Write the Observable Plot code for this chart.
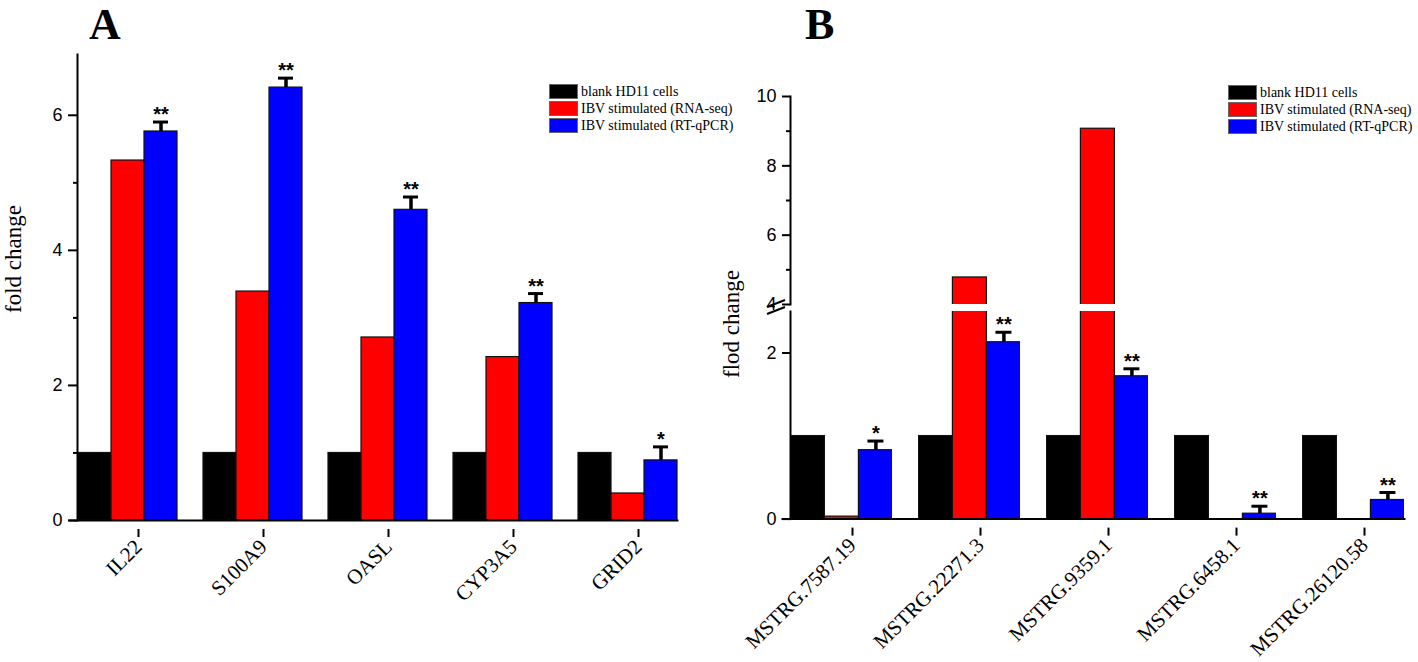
<!DOCTYPE html>
<html>
<head>
<meta charset="utf-8">
<script src="https://cdn.jsdelivr.net/npm/d3@7"></script>
<script src="https://cdn.jsdelivr.net/npm/@observablehq/plot@0.6"></script>
<style>
html,body{margin:0;padding:0;background:#fff;}
#root{position:relative;width:1418px;height:662px;overflow:hidden;background:#fff;}
.abs{position:absolute;}
.abs svg{overflow:visible;background:transparent;}
.letter{font-family:"Liberation Serif",serif;font-weight:bold;font-size:44px;line-height:1;}
.ylab{font-family:"Liberation Serif",serif;font-size:23px;white-space:nowrap;transform:translate(-50%,-50%) rotate(-90deg);line-height:1;}
.legend{font-family:"Liberation Serif",serif;font-size:14px;color:#000;}
.legend .row{display:flex;align-items:center;height:17px;}
.legend .sw{width:29px;height:15px;border:1px solid #666;box-sizing:border-box;margin-right:3px;flex:none;}
.legend .tx{white-space:nowrap;}
</style>
</head>
<body>
<div id="root"></div>
<script>
// ---------- data ----------
const series = ["blank HD11 cells", "IBV stimulated (RNA-seq)", "IBV stimulated (RT-qPCR)"];
const colors = ["#000000", "#ff0000", "#0000ff"];

// Panel A
const genesA = ["IL22", "S100A9", "OASL", "CYP3A5", "GRID2"];
const blankA = [1, 1, 1, 1, 1];
const rnaseqA = [5.33, 3.39, 2.71, 2.42, 0.40];
const qpcrA = [5.76, 6.41, 4.60, 3.22, 0.89];
const errA = [0.14, 0.14, 0.19, 0.14, 0.20];
const starsA = ["**", "**", "**", "**", "*"];
const yTicksA = [0, 2, 4, 6];
const yMinorA = [1, 3, 5];

// Panel B
const genesB = ["MSTRG.7587.19", "MSTRG.22271.3", "MSTRG.9359.1", "MSTRG.6458.1", "MSTRG.26120.58"];
const blankB = [1, 1, 1, 1, 1];
const rnaseqB = [0.03, 4.78, 9.07, 0, 0];
const qpcrB = [0.83, 2.13, 1.72, 0.065, 0.23];
const errB = [0.11, 0.12, 0.09, 0.09, 0.09];
const starsB = ["*", "**", "**", "**", "**"];
const yTicksBUpper = [4, 6, 8, 10];
const yMinorBUpper = [5, 7, 9];
const yTicksBLower = [0, 2];

// ---------- tables ----------
function longTable(genes, cols) {
  const rows = [];
  genes.forEach((g, i) => series.forEach((s, j) => rows.push({gene: g, series: s, value: cols[j][i]})));
  return rows;
}
function errTable(genes, vals, errs, stars) {
  return genes.map((g, i) => ({gene: g, series: series[2], value: vals[i], top: vals[i] + errs[i], star: stars[i]}));
}
const rowsA = longTable(genesA, [blankA, rnaseqA, qpcrA]);
const errRowsA = errTable(genesA, qpcrA, errA, starsA);
const rowsB = longTable(genesB, [blankB, rnaseqB, qpcrB]);
const errRowsB = errTable(genesB, qpcrB, errB, starsB);

const SANS = "Liberation Sans, Arial, sans-serif";
const SERIF = "Liberation Serif, Times New Roman, serif";
const intFmt = d3.format("d");
const colorOpt = {domain: series, range: colors};
const facetZero = {marginTop: 0, marginRight: 0, marginBottom: 0, marginLeft: 0};
const barOpts = {fx: "gene", x: "series", y: "value", fill: "series", stroke: "#111", strokeWidth: 1.2};
const yLabelOpts = {tickSize: 8, tickPadding: 6, fontSize: 18, fontFamily: SANS, label: null, strokeWidth: 2, fill: "#000", tickFormat: intFmt};
const minorOpts = {tickSize: 4, tickFormat: () => "", label: null, strokeWidth: 2};
const fxAxisOpts = {anchor: "bottom", tickSize: 8, tickRotate: -45, fontSize: 21, fontFamily: SERIF, label: null, strokeWidth: 2, fill: "#000", dx: 11, dy: 9};

function errMarks(rows) {
  return [
    Plot.ruleX(rows, {fx: "gene", x: "series", y1: "value", y2: "top", stroke: "#000", strokeWidth: 3.5}),
    Plot.tickY(rows, {fx: "gene", x: "series", y: "top", stroke: "#000", strokeWidth: 3, inset: 9}),
    Plot.text(rows, {fx: "gene", x: "series", y: "top", text: "star", lineAnchor: "bottom", dy: -1,
      fontSize: 20, fontWeight: "bold", fontFamily: SANS, fill: "#000"})
  ];
}

// ---------- Panel A ----------
const plotA = Plot.plot({
  width: 709, height: 600,
  marginLeft: 63, marginRight: 18, marginTop: 54, marginBottom: 80,
  facet: facetZero,
  fx: {domain: genesA, paddingInner: 0.2, paddingOuter: 0.1},
  x: {domain: series, padding: 0, axis: null},
  y: {domain: [0, 6.9]},
  color: colorOpt,
  style: {background: "transparent", overflow: "visible"},
  marks: [
    Plot.barY(rowsA, barOpts),
    ...errMarks(errRowsA),
    Plot.axisY(yTicksA, {...yLabelOpts, tickSize: 9}),
    Plot.axisY(yMinorA, minorOpts),
    Plot.axisFx(fxAxisOpts),
    Plot.frame({facet: "super", anchor: "left", strokeWidth: 2}),
    Plot.frame({facet: "super", anchor: "bottom", strokeWidth: 2, insetLeft: -8})
  ]
});

// ---------- Panel B (broken axis: upper + lower) ----------
const plotBUpper = Plot.plot({
  width: 709, height: 320,
  marginLeft: 66.6, marginRight: 0, marginTop: 96, marginBottom: 16,
  facet: facetZero,
  fx: {domain: genesB, paddingInner: 0.2, paddingOuter: 0.1, axis: null},
  x: {domain: series, padding: 0, axis: null},
  y: {domain: [4, 10]},
  color: colorOpt,
  style: {background: "transparent", overflow: "visible"},
  marks: [
    Plot.barY(rowsB, {...barOpts, clip: true}),
    Plot.axisY(yTicksBUpper, yLabelOpts),
    Plot.axisY(yMinorBUpper, minorOpts),
    Plot.frame({facet: "super", anchor: "left", strokeWidth: 2})
  ]
});

const plotBLower = Plot.plot({
  width: 709, height: 358,
  marginLeft: 66.6, marginRight: 0, marginTop: 7, marginBottom: 143.4,
  facet: facetZero,
  fx: {domain: genesB, paddingInner: 0.2, paddingOuter: 0.1},
  x: {domain: series, padding: 0, axis: null},
  y: {domain: [0, 2.5]},
  color: colorOpt,
  style: {background: "transparent", overflow: "visible"},
  marks: [
    Plot.barY(rowsB, {...barOpts, clip: true}),
    ...errMarks(errRowsB),
    Plot.axisY(yTicksBLower, yLabelOpts),
    Plot.axisFx(fxAxisOpts),
    Plot.frame({facet: "super", anchor: "left", strokeWidth: 2}),
    Plot.frame({facet: "super", anchor: "bottom", strokeWidth: 2, insetLeft: -8})
  ]
});

// ---------- layout ----------
const root = document.getElementById("root");
function place(node, left, top) {
  const d = document.createElement("div");
  d.className = "abs";
  d.style.left = left + "px";
  d.style.top = top + "px";
  d.appendChild(node);
  root.appendChild(d);
  return d;
}
place(plotA, 0, 0);
place(plotBLower, 709, 304);
place(plotBUpper, 709, 0);

// axis-break marks on panel B
const ns = "http://www.w3.org/2000/svg";
const brk = document.createElementNS(ns, "svg");
brk.setAttribute("width", 24); brk.setAttribute("height", 20);
brk.innerHTML = '<rect x="10" y="4" width="4" height="9" fill="#fff"/>' +
  '<line x1="2" y1="10" x2="20" y2="3" stroke="#000" stroke-width="2"/>' +
  '<line x1="2" y1="17" x2="20" y2="10" stroke="#000" stroke-width="2"/>';
place(brk, 765, 297);

function textDiv(cls, txt, left, top) {
  const d = document.createElement("div");
  d.className = "abs " + cls;
  d.textContent = txt;
  d.style.left = left + "px";
  d.style.top = top + "px";
  root.appendChild(d);
  return d;
}
textDiv("letter", "A", 89, 3);
textDiv("letter", "B", 805, 3);
textDiv("ylab", "fold change", 13, 259);
textDiv("ylab", "flod change", 731, 324);

function legend(left, top) {
  const d = document.createElement("div");
  d.className = "abs legend";
  d.style.left = left + "px";
  d.style.top = top + "px";
  series.forEach((s, i) => {
    const r = document.createElement("div");
    r.className = "row";
    const sw = document.createElement("div");
    sw.className = "sw";
    sw.style.background = colors[i];
    const t = document.createElement("span");
    t.className = "tx";
    t.textContent = s;
    r.appendChild(sw); r.appendChild(t);
    d.appendChild(r);
  });
  root.appendChild(d);
}
legend(549, 83);
legend(1228, 84);
</script>
</body>
</html>
